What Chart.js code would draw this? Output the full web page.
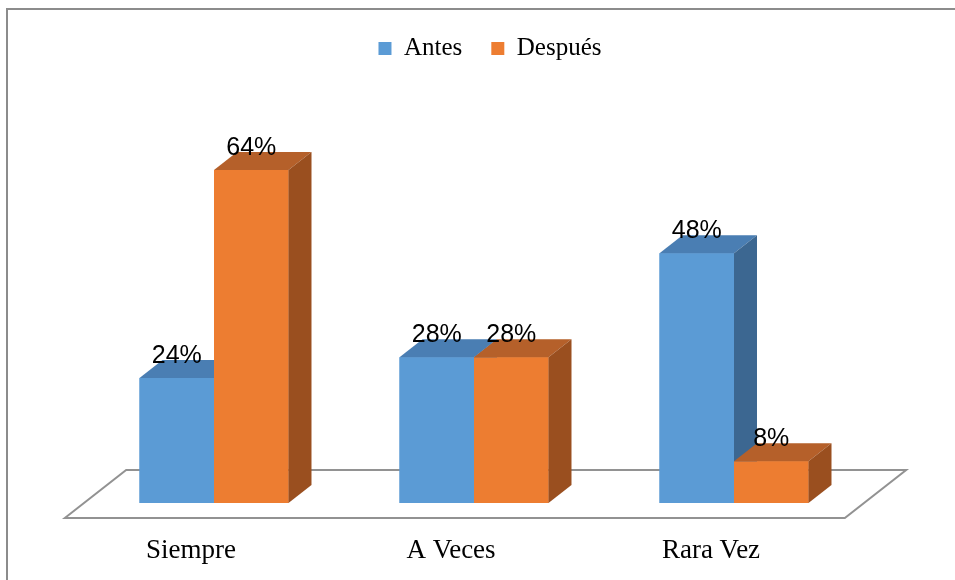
<!DOCTYPE html>
<html><head><meta charset="utf-8">
<script src="https://cdn.jsdelivr.net/npm/chart.js@4/dist/chart.umd.min.js"></script>
<style>html,body{margin:0;padding:0;background:#fff}canvas{display:block}</style>
</head><body>
<canvas id="c" width="955" height="580"></canvas>
<script>
const categories = ['Siempre', 'A Veces', 'Rara Vez'];
const seriesNames = ['Antes', 'Después'];
const antes = [24, 28, 48];
const despues = [64, 28, 8];

const frontColors = ['#5B9BD5', '#ED7D31'];
const topColors = ['#4A7EB3', '#B5602A'];
const sideColors = ['#3C6791', '#9A4F1F'];
const DX = 23, DY = 18;

const frame = {
  id: 'frame',
  beforeDraw(chart) {
    const ctx = chart.ctx;
    ctx.save();
    ctx.fillStyle = '#fff';
    ctx.fillRect(0, 0, chart.width, chart.height);
    ctx.strokeStyle = '#8c8c8c';
    ctx.lineWidth = 2;
    ctx.beginPath();
    ctx.moveTo(7, chart.height);
    ctx.lineTo(7, 9);
    ctx.lineTo(chart.width, 9);
    ctx.stroke();
    ctx.restore();
  }
};

const floor = {
  id: 'floor',
  beforeDatasetsDraw(chart) {
    const {ctx, chartArea: a, scales: {y}} = chart;
    const base = y.getPixelForValue(0);
    const k = DX / DY;
    const fy = 15, by = 33;
    ctx.save();
    ctx.beginPath();
    ctx.moveTo(a.left - fy * k, base + fy);
    ctx.lineTo(a.left + by * k, base - by);
    ctx.lineTo(a.right + by * k, base - by);
    ctx.lineTo(a.right - fy * k, base + fy);
    ctx.closePath();
    ctx.fillStyle = '#fff';
    ctx.fill();
    ctx.strokeStyle = '#929292';
    ctx.lineWidth = 2;
    ctx.stroke();
    ctx.restore();
  }
};

// Redraw each bar as a 3D box, series in order (Antes, then Después) so overlaps match.
const box3d = {
  id: 'box3d',
  afterDatasetsDraw(chart) {
    const ctx = chart.ctx;
    chart.data.datasets.forEach((ds, i) => {
      chart.getDatasetMeta(i).data.forEach(bar => {
        bar.draw(ctx);
        const {x, y, base, width} = bar.getProps(['x', 'y', 'base', 'width'], true);
        const l = x - width / 2, r = x + width / 2;
        ctx.save();
        ctx.fillStyle = topColors[i];
        ctx.beginPath();
        ctx.moveTo(l, y); ctx.lineTo(l + DX, y - DY); ctx.lineTo(r + DX, y - DY); ctx.lineTo(r, y);
        ctx.closePath(); ctx.fill();
        ctx.fillStyle = sideColors[i];
        ctx.beginPath();
        ctx.moveTo(r, y); ctx.lineTo(r + DX, y - DY); ctx.lineTo(r + DX, base - DY); ctx.lineTo(r, base);
        ctx.closePath(); ctx.fill();
        ctx.restore();
      });
    });
  }
};

const valueLabels = {
  id: 'valueLabels',
  afterDatasetsDraw(chart) {
    const ctx = chart.ctx;
    ctx.save();
    ctx.fillStyle = '#000';
    ctx.font = '25px "Liberation Sans", Arial, sans-serif';
    ctx.textAlign = 'center';
    ctx.textBaseline = 'alphabetic';
    chart.data.datasets.forEach((ds, di) => {
      chart.getDatasetMeta(di).data.forEach((bar, j) => {
        ctx.fillText(ds.data[j] + '%', bar.x, bar.y - DY + 3);
      });
    });
    ctx.restore();
  }
};

new Chart(document.getElementById('c'), {
  type: 'bar',
  data: {
    labels: categories,
    datasets: [
      {label: seriesNames[0], data: antes, backgroundColor: frontColors[0], borderWidth: 0},
      {label: seriesNames[1], data: despues, backgroundColor: frontColors[1], borderWidth: 0}
    ]
  },
  options: {
    responsive: false,
    animation: false,
    events: [],
    layout: {padding: {top: 7, left: 84, right: 59, bottom: 15}},
    datasets: {bar: {barPercentage: 1, categoryPercentage: 0.573}},
    scales: {
      x: {
        grid: {display: false, drawTicks: false},
        border: {display: false},
        ticks: {
          color: '#000', padding: 32, labelOffset: -23,
          font: {family: '"Liberation Serif", "Times New Roman", serif', size: 27}
        },
        afterFit(s) { s.height = 62; }
      },
      y: {
        position: 'right',
        min: 0, max: 83,
        grid: {display: false, drawTicks: false},
        border: {display: false},
        ticks: {display: false},
        afterFit(s) { s.width = 32; }
      }
    },
    plugins: {
      legend: {
        position: 'top',
        labels: {
          boxWidth: 13, boxHeight: 13, padding: 29, color: '#000',
          font: {family: '"Liberation Serif", "Times New Roman", serif', size: 25}
        }
      },
      tooltip: {enabled: false}
    }
  },
  plugins: [frame, floor, box3d, valueLabels]
});
</script>
</body></html>
